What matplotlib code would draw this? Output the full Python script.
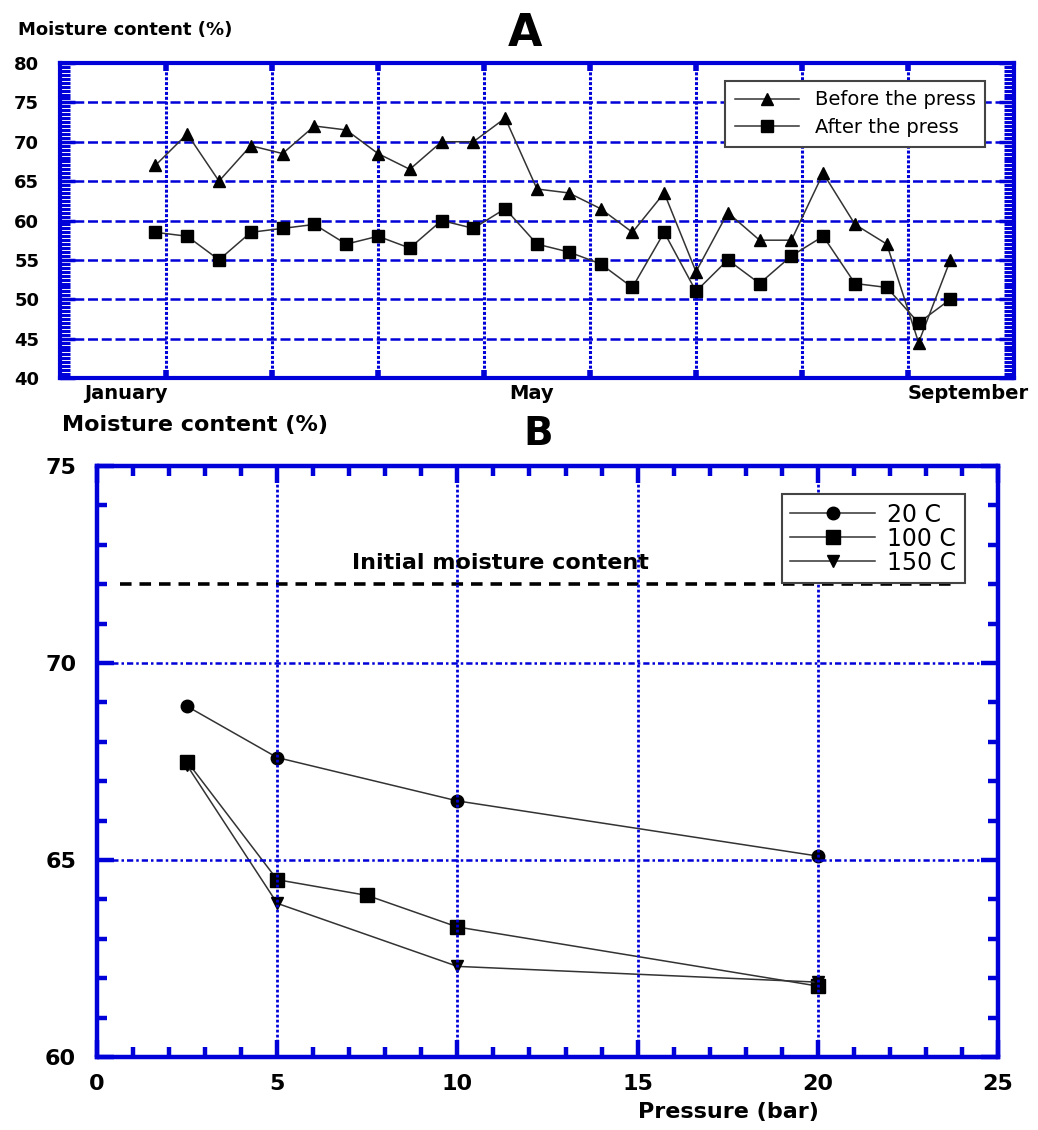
import matplotlib.pyplot as plt
import numpy as np

# panel A: moisture content of samples, January -> September
sample_pos = np.arange(26) * 0.3 + 0.9
before_press = [67, 71, 65, 69.5, 68.5, 72, 71.5, 68.5, 66.5, 70, 70, 73,
                64, 63.5, 61.5, 58.5, 63.5, 53.5, 61, 57.5, 57.5, 66, 59.5, 57, 44.5, 55]
after_press = [58.5, 58, 55, 58.5, 59, 59.5, 57, 58, 56.5, 60, 59, 61.5,
               57, 56, 54.5, 51.5, 58.5, 51, 55, 52, 55.5, 58, 52, 51.5, 47, 50]
month_labels = ["January", "May", "September"]
month_pos = [0.62, 4.45, 8.57]

# panel B: moisture content vs pressure
p_20 = [2.5, 5, 10, 20]
mc_20 = [68.9, 67.6, 66.5, 65.1]
p_100 = [2.5, 5, 7.5, 10, 20]
mc_100 = [67.5, 64.5, 64.1, 63.3, 61.8]
p_150 = [2.5, 5, 10, 20]
mc_150 = [67.4, 63.9, 62.3, 61.9]
initial_mc = 72

blue = "#0000d8"
bold = dict(family="DejaVu Sans", weight="bold")

fig = plt.figure(figsize=(10.38, 11.30), dpi=100)

# ---------------- A ----------------
ax = fig.add_axes([60/1038, 1 - 378/1130, 954/1038, 315/1130])
ax.plot(sample_pos, before_press, color="#333333", lw=1.1, marker="^", ms=8,
        mfc="black", mec="black", label="Before the press")
ax.plot(sample_pos, after_press, color="#333333", lw=1.1, marker="s", ms=8.5,
        mfc="black", mec="black", label="After the press")
ax.set_xlim(0, 9)
ax.set_ylim(40, 80)
ax.set_xticks(range(1, 9))
ax.set_xticklabels([])
ax.set_yticks(range(40, 81, 5))
ax.set_yticks(np.arange(40, 80.01, 0.5), minor=True)
ax.yaxis.grid(True, color=blue, lw=1.8, dashes=(4, 1.5))
ax.xaxis.grid(True, color=blue, lw=2.2, dashes=(1, 0.6))
ax.tick_params(axis="y", which="major", direction="in", length=11, width=2.5,
               color=blue, right=True, pad=15, labelsize=13)
ax.tick_params(axis="y", which="minor", direction="in", length=7, width=2.2,
               color=blue, right=True)
ax.tick_params(axis="x", which="major", direction="in", length=6, width=4,
               color=blue, top=True)
for lab in ax.get_yticklabels():
    lab.set_fontfamily("DejaVu Sans")
    lab.set_fontweight("bold")
for s in ax.spines.values():
    s.set_color(blue)
    s.set_linewidth(3)
for m, xp in zip(month_labels, month_pos):
    ax.text(xp, -0.05, m, transform=ax.get_xaxis_transform(), ha="center",
            va="center", fontsize=14, **bold)
leg = ax.legend(loc="upper right", bbox_to_anchor=(0.98, 0.975),
                prop=dict(family="DejaVu Sans", size=14), handlelength=3.3,
                fancybox=False, framealpha=1, borderpad=0.5, labelspacing=0.45)
leg.get_frame().set_edgecolor("#444444")
leg.get_frame().set_linewidth(1.5)
fig.text(18/1038, 1 - 30/1130, "Moisture content (%)", ha="left", va="center",
         fontsize=13, **bold)
fig.text(525/1038, 1 - 33/1130, "A", ha="center", va="center", fontsize=32, **bold)

# ---------------- B ----------------
bx = fig.add_axes([97/1038, 1 - 1057/1130, 901/1038, 591/1130])
bx.plot(p_20, mc_20, color="#333333", lw=1.1, marker="o", ms=9,
        mfc="black", mec="black", label="20 C")
bx.plot(p_100, mc_100, color="#333333", lw=1.1, marker="s", ms=9.5,
        mfc="black", mec="black", label="100 C")
bx.plot(p_150, mc_150, color="#333333", lw=1.1, marker="v", ms=8.5,
        mfc="black", mec="black", label="150 C")
bx.hlines(initial_mc, 0.65, 23.9, colors="black", lw=2.6, linestyles=(0, (3.2, 2.2)))
bx.text(11.2, 72.54, "Initial moisture content", ha="center",
        va="center", fontsize=16, **bold)
bx.set_xlim(0, 25)
bx.set_ylim(60, 75)
bx.set_xticks(range(0, 26, 5))
bx.set_xticks(range(0, 26), minor=True)
bx.set_yticks(range(60, 76, 5))
bx.set_yticks(range(60, 76), minor=True)
bx.grid(False)
for xv in [5, 10, 15, 20]:
    bx.axvline(xv, color=blue, lw=2.0, dashes=(1, 0.8))
for yv in [65, 70]:
    bx.axhline(yv, color=blue, lw=1.8, dashes=(2.5, 1.2, 1, 1.2))
bx.tick_params(which="major", direction="in", length=12, width=3.2, color=blue,
               top=True, right=True, labelsize=16)
bx.tick_params(axis="y", which="major", pad=15)
bx.tick_params(axis="x", which="major", pad=12)
bx.tick_params(which="minor", direction="in", length=7, width=3.2, color=blue,
               top=True, right=True)
for lab in bx.get_xticklabels() + bx.get_yticklabels():
    lab.set_fontfamily("DejaVu Sans")
    lab.set_fontweight("bold")
for s in bx.spines.values():
    s.set_color(blue)
    s.set_linewidth(3.2)
fig.text(728/1038, 1 - 1112/1130, "Pressure (bar)", ha="center", va="center",
         fontsize=16, **bold)
leg2 = bx.legend(loc="upper right", bbox_to_anchor=(0.976, 0.972),
                 prop=dict(family="DejaVu Sans", size=17), handlelength=3.6,
                 fancybox=False, framealpha=1, borderpad=0.35, labelspacing=0.0,
                 handletextpad=0.5)
leg2.get_frame().set_edgecolor("#444444")
leg2.get_frame().set_linewidth(1.5)
fig.text(62/1038, 1 - 425/1130, "Moisture content (%)", ha="left", va="center",
         fontsize=16, **bold)
fig.text(538/1038, 1 - 434/1130, "B", ha="center", va="center", fontsize=28, **bold)

fig.savefig("out.png", dpi=100)
